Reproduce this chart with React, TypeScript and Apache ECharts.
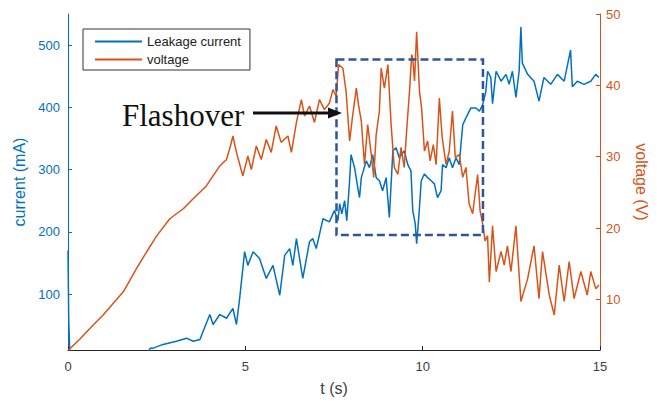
import React, { useEffect, useRef } from "react";
import * as echarts from "echarts";

const xTicks = [0, 5, 10, 15];
const currentTicks = [100, 200, 300, 400, 500];
const voltageTicks = [10, 20, 30, 40, 50];

// [t (s), current (mA)]
const currentData: [number, number][] = [
  [0, 170], [0.02, 60], [0.05, 5], [2.25, 5], [2.32, 13], [2.4, 13], [2.68, 19], [3.06, 24], [3.34, 29],
  [3.53, 24], [3.72, 27], [3.81, 40], [4.0, 67], [4.09, 51], [4.28, 67], [4.47, 61], [4.65, 77],
  [4.75, 51], [4.84, 93], [4.98, 168], [5.07, 146], [5.22, 168], [5.4, 157], [5.59, 125], [5.78, 146],
  [5.97, 98], [6.11, 162], [6.25, 173], [6.34, 146], [6.44, 189], [6.62, 125], [6.81, 184], [6.9, 189],
  [7.0, 173], [7.19, 221], [7.37, 216], [7.51, 234], [7.61, 218], [7.66, 245], [7.72, 229], [7.8, 250],
  [7.86, 218], [7.94, 282], [7.98, 324], [8.08, 303], [8.17, 271], [8.22, 255], [8.27, 287], [8.41, 314],
  [8.5, 303], [8.59, 324], [8.69, 287], [8.78, 282], [8.87, 266], [8.97, 287], [9.06, 223], [9.16, 330],
  [9.25, 335], [9.34, 319], [9.48, 330], [9.58, 308], [9.67, 298], [9.72, 234], [9.79, 213], [9.83, 181],
  [9.89, 223], [9.96, 282], [10.05, 293], [10.14, 287], [10.24, 282], [10.33, 277], [10.42, 255],
  [10.52, 266], [10.56, 308], [10.66, 303], [10.75, 319], [10.84, 303], [10.94, 319], [11.03, 308],
  [11.13, 372], [11.22, 383], [11.36, 399], [11.5, 399], [11.6, 394], [11.69, 404], [11.78, 425],
  [11.83, 458], [11.92, 448], [11.97, 406], [12.07, 458], [12.21, 442], [12.35, 453], [12.44, 437],
  [12.53, 458], [12.63, 416], [12.72, 458], [12.77, 529], [12.81, 471], [12.96, 453], [13.14, 442],
  [13.28, 410], [13.42, 448], [13.61, 437], [13.8, 453], [13.99, 442], [14.17, 492], [14.22, 433],
  [14.36, 442], [14.55, 437], [14.74, 442], [14.88, 453], [14.97, 448],
];

// [t (s), voltage (V)]
const voltageData: [number, number][] = [
  [0, 2.9], [0.06, 3.1], [0.35, 4.5], [0.71, 6.4], [0.99, 7.8], [1.56, 11.05], [1.93, 14.3], [2.21, 16.6],
  [2.5, 18.9], [2.87, 21.3], [3.25, 22.7], [3.53, 24.1], [3.9, 25.9], [4.09, 27.3], [4.28, 28.7],
  [4.47, 29.6], [4.58, 31.5], [4.65, 32.9], [4.75, 30.6], [4.93, 27.3], [5.07, 30.1], [5.17, 28.2],
  [5.31, 31.5], [5.45, 29.6], [5.59, 32.4], [5.73, 30.6], [5.87, 34.3], [6.01, 32.0], [6.2, 32.9],
  [6.3, 30.6], [6.44, 34.8], [6.58, 38.0], [6.67, 35.7], [6.81, 37.1], [6.95, 34.8], [7.09, 38.0],
  [7.23, 36.6], [7.37, 37.5], [7.47, 39.4], [7.56, 38.5], [7.63, 42.9], [7.75, 42.4], [7.84, 39.2],
  [7.94, 32.2], [8.03, 35.9], [8.13, 39.6], [8.19, 37.3], [8.27, 35.0], [8.36, 28.9], [8.45, 34.5],
  [8.55, 30.3], [8.62, 27.1], [8.69, 33.1], [8.78, 36.4], [8.83, 42.4], [8.92, 39.6], [9.02, 42.9],
  [9.11, 34.5], [9.2, 28.5], [9.3, 27.5], [9.39, 31.3], [9.48, 28.5], [9.56, 34.5], [9.63, 39.2],
  [9.69, 44.3], [9.72, 43.8], [9.77, 40.6], [9.83, 47.5], [9.91, 39.2], [9.97, 36.8], [10.05, 30.8],
  [10.14, 32.2], [10.21, 29.4], [10.3, 31.7], [10.38, 28.9], [10.47, 38.2], [10.55, 32.7], [10.66, 28.9],
  [10.75, 30.8], [10.84, 36.4], [10.92, 29.9], [11.03, 30.3], [11.13, 27.1], [11.22, 28.5], [11.31, 23.4],
  [11.41, 22.0], [11.48, 24.8], [11.55, 27.5], [11.62, 22.4], [11.69, 20.6], [11.76, 18.2], [11.83, 18.9],
  [11.88, 12.4], [11.97, 20.3], [12.07, 13.9], [12.21, 16.7], [12.3, 14.8], [12.39, 17.5], [12.49, 13.9],
  [12.63, 20.3], [12.77, 9.7], [12.96, 12.9], [13.14, 17.5], [13.28, 10.1], [13.38, 16.7], [13.57, 10.6],
  [13.71, 7.8], [13.85, 14.8], [13.99, 9.7], [14.13, 15.3], [14.27, 10.1], [14.46, 13.9], [14.64, 10.6],
  [14.74, 13.9], [14.88, 11.5], [14.97, 12.0],
];

// Flashover region: [t start, current low] -> [t end, current high]
const flashoverBox = { t0: 7.57, t1: 11.7, i0: 195, i1: 477 };

const BLUE = "#0072BD";
const ORANGE = "#D95319";
const FONT = "'Liberation Sans', Arial, Helvetica, sans-serif";

export default function App() {
  const ref = useRef<HTMLDivElement>(null);
  useEffect(() => {
    document.body.style.margin = "0";
    if (!ref.current) return;
    const chart = echarts.init(ref.current, null, { renderer: "svg" });
    chart.setOption({
      animation: false,
      backgroundColor: "#ffffff",
      textStyle: { fontFamily: FONT },
      grid: { left: 68, right: 56, top: 14, bottom: 49, containLabel: false },
      legend: {
        left: 83,
        top: 29,
        orient: "vertical",
        padding: [6, 9, 4, 11],
        itemGap: 5,
        itemWidth: 47,
        itemHeight: 14,
        borderColor: "#333333",
        borderWidth: 1,
        backgroundColor: "#ffffff",
        itemStyle: { opacity: 0 },
        textStyle: { fontFamily: FONT, fontSize: 13, color: "#222222" },
        data: ["Leakage current", "voltage"],
      },
      xAxis: {
        type: "value",
        min: 0,
        max: 15,
        interval: 5,
        name: "t (s)",
        nameLocation: "middle",
        nameGap: 30,
        nameTextStyle: { fontFamily: FONT, fontSize: 16, color: "#404040" },
        axisLine: { show: true, lineStyle: { color: "#262626", width: 1 } },
        axisTick: { show: true, inside: true, length: 4, lineStyle: { color: "#262626" } },
        axisLabel: {
          fontFamily: FONT,
          fontSize: 13,
          color: "#404040",
          margin: 10,
          customValues: xTicks,
        },
        splitLine: { show: false },
      },
      yAxis: [
        {
          type: "value",
          position: "left",
          min: 10,
          max: 550,
          name: "current (mA)",
          nameLocation: "middle",
          nameGap: 37,
          nameTextStyle: { fontFamily: FONT, fontSize: 16, color: BLUE },
          axisLine: { show: true, lineStyle: { color: BLUE, width: 1 } },
          axisTick: { show: true, inside: true, length: 4, customValues: currentTicks, lineStyle: { color: BLUE } },
          axisLabel: { fontFamily: FONT, fontSize: 13, color: BLUE, margin: 8, customValues: currentTicks },
          splitLine: { show: false },
        },
        {
          type: "value",
          position: "right",
          min: 2.9,
          max: 50,
          name: "voltage (V)",
          nameLocation: "middle",
          nameGap: 33,
          nameRotate: -90,
          nameTextStyle: { fontFamily: FONT, fontSize: 16, color: ORANGE },
          axisLine: { show: true, lineStyle: { color: ORANGE, width: 1 } },
          axisTick: { show: true, inside: true, length: 4, customValues: voltageTicks, lineStyle: { color: ORANGE } },
          axisLabel: { fontFamily: FONT, fontSize: 13, color: ORANGE, margin: 6, customValues: voltageTicks },
          splitLine: { show: false },
        },
      ],
      series: [
        {
          name: "Leakage current",
          type: "line",
          yAxisIndex: 0,
          symbol: "none",
          clip: true,
          data: currentData,
          lineStyle: { color: BLUE, width: 1.5 },
          itemStyle: { color: BLUE },
          z: 2,
        },
        {
          name: "voltage",
          type: "line",
          yAxisIndex: 1,
          symbol: "none",
          clip: true,
          data: voltageData,
          lineStyle: { color: ORANGE, width: 1.5 },
          itemStyle: { color: ORANGE },
          z: 3,
        },
        {
          name: "box",
          type: "line",
          yAxisIndex: 0,
          data: [],
          z: 4,
          markArea: {
            silent: true,
            z: 10,
            itemStyle: {
              color: "rgba(0,0,0,0)",
              borderColor: "#2F5597",
              borderWidth: 2.5,
              borderType: [8, 4],
            },
            data: [
              [
                { coord: [flashoverBox.t0, flashoverBox.i1] },
                { coord: [flashoverBox.t1, flashoverBox.i0] },
              ],
            ],
          },
        },
      ],
      graphic: [
        {
          type: "text",
          left: 122,
          top: 100,
          z: 100,
          style: {
            text: "Flashover",
            fontFamily: "'Liberation Serif', 'Times New Roman', serif",
            fontSize: 31,
            fill: "#111111",
          },
        },
        {
          type: "line",
          z: 100,
          shape: { x1: 253, y1: 113, x2: 332, y2: 113 },
          style: { stroke: "#111111", lineWidth: 3 },
        },
        {
          type: "polygon",
          z: 100,
          shape: { points: [[328, 107.5], [342, 113], [328, 118.5]] },
          style: { fill: "#111111" },
        },
      ],
    });
    return () => chart.dispose();
  }, []);
  return <div ref={ref} style={{ width: 657, height: 401 }} />;
}
